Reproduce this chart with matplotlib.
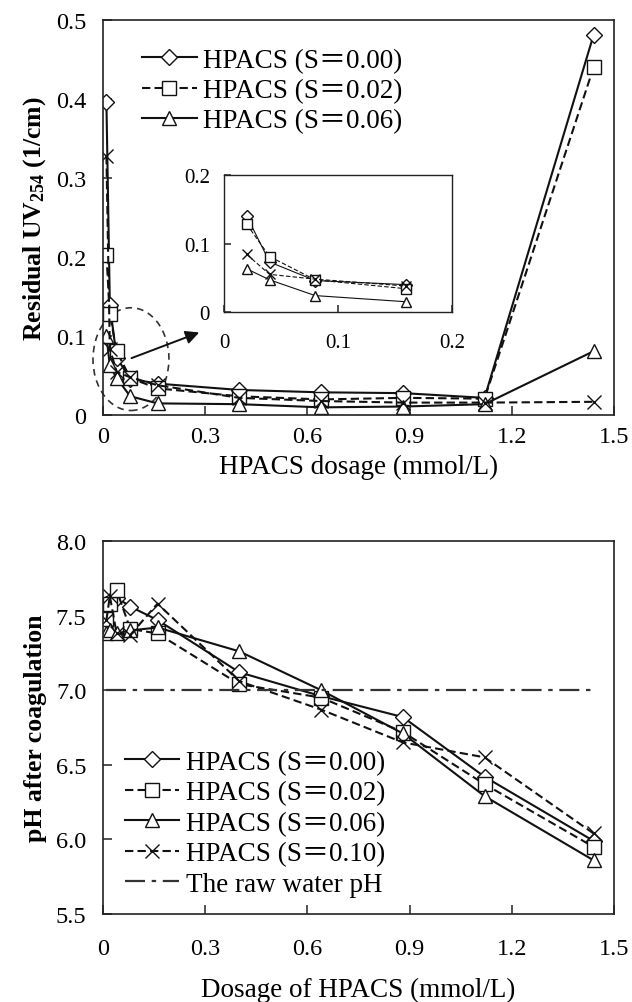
"""
Residual UV254 and pH after coagulation vs HPACS dosage, two stacked panels.
Writes out.png.
"""
import matplotlib
matplotlib.use("Agg")
import matplotlib.pyplot as plt
from matplotlib.patches import Ellipse

plt.rcParams["font.family"] = ["Liberation Serif", "Noto Sans CJK JP"]
plt.rcParams["mathtext.fontset"] = "custom"
plt.rcParams["mathtext.rm"] = "Liberation Serif"
plt.rcParams["mathtext.bf"] = "Liberation Serif:bold"
plt.rcParams["mathtext.default"] = "regular"

# dosages (mmol/L)
DOSE = [0.01, 0.02, 0.04, 0.08, 0.16, 0.40, 0.64, 0.88, 1.12, 1.44]
LABELS = ["HPACS (S＝0.00)", "HPACS (S＝0.02)", "HPACS (S＝0.06)", "HPACS (S＝0.10)"]

# residual UV254 (1/cm)
UV_S000 = [0.396, 0.140, 0.073, 0.046, 0.040, 0.032, 0.029, 0.028, 0.022, 0.481]
UV_S002 = [0.203, 0.128, 0.081, 0.047, 0.034, 0.024, 0.020, 0.022, 0.021, 0.440]
UV_S006 = [0.100, 0.063, 0.047, 0.024, 0.015, 0.014, 0.010, 0.011, 0.014, 0.081]
UV_S010 = [0.328, 0.084, 0.055, 0.048, 0.038, 0.022, 0.018, 0.016, 0.016, 0.017]

# pH after coagulation
PH_S000 = [7.58, 7.60, 7.62, 7.56, 7.47, 7.12, 6.96, 6.82, 6.42, 5.99]
PH_S002 = [7.48, 7.58, 7.67, 7.41, 7.38, 7.04, 6.95, 6.72, 6.37, 5.95]
PH_S006 = [7.38, 7.40, 7.38, 7.40, 7.42, 7.26, 7.00, 6.71, 6.29, 5.86]
PH_S010 = [7.47, 7.63, 7.38, 7.37, 7.58, 7.06, 6.87, 6.65, 6.55, 6.04]
RAW_PH = 7.0

MARKERS = ["D", "s", "^", "x"]
MSIZES = [8, 10, 10, 10]
STYLES = ["-", (0, (4, 2)), "-", (0, (4, 2))]
INK = "#111111"


def style_axes(ax, tick_size, xpad, ypad):
    for sp in ax.spines.values():
        sp.set_linewidth(1.2)
        sp.set_color("#222222")
    ax.tick_params(direction="in", length=6.5, width=1.1, labelsize=tick_size,
                   top=False, right=False, color="#222222")
    ax.tick_params(axis="x", pad=xpad)
    ax.tick_params(axis="y", pad=ypad)


def draw_series(ax, xs, series, lw=1.5, ms_scale=1.0, labels=None):
    for k, ys in enumerate(series):
        ax.plot(xs, ys, linestyle=STYLES[k], color=INK, lw=lw,
                marker=MARKERS[k], ms=MSIZES[k] * ms_scale,
                mfc="white", mec=INK, mew=1.0,
                label=labels[k] if labels else None)


fig = plt.figure(figsize=(6.32, 10.03), dpi=100)

# ---- top panel: residual UV254 ----
ax1 = fig.add_axes([0.163, 0.585, 0.8085, 0.394])
uv = [UV_S000, UV_S002, UV_S006, UV_S010]
draw_series(ax1, DOSE, uv, labels=LABELS)
ax1.set_xlim(0, 1.5)
ax1.set_ylim(0, 0.5)
ax1.set_xticks([0, 0.3, 0.6, 0.9, 1.2, 1.5])
ax1.set_xticklabels(["0", "0.3", "0.6", "0.9", "1.2", "1.5"])
ax1.set_yticks([0, 0.1, 0.2, 0.3, 0.4, 0.5])
ax1.set_yticklabels(["0", "0.1", "0.2", "0.3", "0.4", "0.5"])
style_axes(ax1, 17.5, 8, 12)
ax1.set_xlabel("HPACS dosage (mmol/L)", fontsize=19.5, labelpad=5)
ax1.set_ylabel("Residual UV$_{254}$ (1/cm)", fontsize=18.5, fontweight="bold",
               labelpad=6)

h, l = ax1.get_legend_handles_labels()
ax1.legend(h[:3], l[:3], loc="upper left", bbox_to_anchor=(0.077, 0.93),
           frameon=False, fontsize=19.5, handlelength=2.0, handletextpad=0.25,
           labelspacing=0.2, borderpad=0, borderaxespad=0)

# zoom marker: dashed ellipse + arrow toward the inset
ax1.add_patch(Ellipse((0.082, 0.071), 0.223, 0.130, fill=False, ls=(0, (4, 3)),
                      lw=1.2, ec="#333333", clip_on=False))
ax1.annotate("", xy=(0.29, 0.106), xytext=(0.076, 0.071),
             arrowprops=dict(arrowstyle="-|>", color=INK, lw=1.4,
                             mutation_scale=20))

# inset: first dosages only
axi = fig.add_axes([0.3544, 0.6879, 0.3608, 0.1366])
draw_series(axi, DOSE[1:5], [s[1:5] for s in uv], lw=0.8, ms_scale=0.75)
axi.set_xlim(0, 0.2)
axi.set_ylim(0, 0.2)
axi.set_xticks([0, 0.1, 0.2])
axi.set_xticklabels(["0", "0.1", "0.2"])
axi.set_yticks([0, 0.1, 0.2])
axi.set_yticklabels(["0", "0.1", "0.2"])
style_axes(axi, 15, 15, 10)
for sp in axi.spines.values():
    sp.set_linewidth(1.0)
axi.tick_params(length=5)

# ---- bottom panel: pH ----
ax2 = fig.add_axes([0.163, 0.0877, 0.8085, 0.372])
ph = [PH_S000, PH_S002, PH_S006, PH_S010]
draw_series(ax2, DOSE, ph, labels=LABELS)
ax2.plot([DOSE[0], DOSE[-1]], [RAW_PH, RAW_PH], color="#333333", lw=1.6,
         linestyle=(0, (9, 3, 2, 3)), label="The raw water pH")
ax2.set_xlim(0, 1.5)
ax2.set_ylim(5.5, 8.0)
ax2.set_xticks([0, 0.3, 0.6, 0.9, 1.2, 1.5])
ax2.set_xticklabels(["0", "0.3", "0.6", "0.9", "1.2", "1.5"])
ax2.set_yticks([5.5, 6.0, 6.5, 7.0, 7.5, 8.0])
ax2.set_yticklabels(["5.5", "6.0", "6.5", "7.0", "7.5", "8.0"])
style_axes(ax2, 17.5, 17, 12)
ax2.set_xlabel("Dosage of HPACS (mmol/L)", fontsize=19.5, labelpad=13)
ax2.set_ylabel("pH after coagulation", fontsize=18.5, fontweight="bold",
               labelpad=6)
ax2.legend(loc="upper left", bbox_to_anchor=(0.043, 0.44), frameon=False,
           fontsize=19.5, handlelength=2.0, handletextpad=0.25,
           labelspacing=0.2, borderpad=0, borderaxespad=0)

fig.savefig("out.png", dpi=100)
